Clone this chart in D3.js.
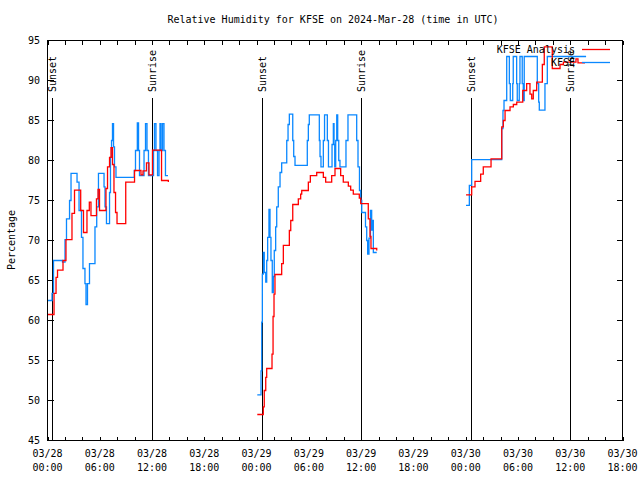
<!DOCTYPE html>
<html>
<head>
<meta charset="utf-8">
<script src="https://cdn.jsdelivr.net/npm/d3@7"></script>
<style>
  html, body { margin: 0; padding: 0; background: #fff; }
  svg { display: block; }
  text { font-family: "DejaVu Sans Mono", "Liberation Mono", monospace; font-size: 10px; fill: #000; }
</style>
</head>
<body>
<svg id="chart" width="640" height="480"></svg>
<script>
// ---- data (hours since 2024-03-28 00:00 UTC) ----
const analysisTime = [0.00,0.75,0.98,1.15,1.78,2.12,2.81,3.10,3.81,4.13,4.53,4.80,4.99,5.62,5.80,5.97,6.71,6.89,7.12,7.29,7.46,7.63,7.81,7.98,8.98,9.99,10.73,10.96,11.36,11.65,12.05,13.09,13.87, 14.0,
  24.08,24.77,24.88,25.05,25.16,25.77,25.89,26.00,26.11,26.88,27.07,27.76,27.92,28.15,28.79,29.06,29.18,29.94,30.17,30.90,31.66,31.93,32.62,33.00,33.65,33.95,34.53,34.80,35.10,35.79,35.95,36.82,37.02,37.13,37.79, 38.0,
  48.04,48.69,49.07,49.72,50.02,50.91,52.14,52.32,52.52,53.09,53.47,53.86,54.55,55.00,55.38,55.58,55.76,56.15,56.80,57.02,57.94,58.83,59.21,60.66,60.89,61.70];
const analysisRH = [60.75,63.4,65.4,66.3,67.5,70.1,73.4,76.3,73.75,71.0,73.75,74.8,73.1,75.2,76.4,73.75,76.5,79.2,80.4,81.6,79.5,76.0,73.5,72.1,77.3,78.75,78.2,78.7,79.7,78.2,81.3,77.5,77.3, null,
  48.25,49.2,51.25,52.9,54.0,55.8,60.5,63.3,65.75,67.1,69.4,71.25,72.5,74.5,75.2,75.8,76.25,77.3,78.1,78.5,77.9,77.3,78.1,79.0,78.1,77.3,76.8,76.3,75.8,75.3,74.6,72.7,70.5,69.0,68.75, null,
  75.7,76.7,77.4,78.3,79.2,80.2,84.2,85.0,86.25,86.7,87.0,87.3,88.75,89.6,88.3,87.7,88.75,89.8,92.0,94.2,91.5,92.0,92.3,92.7,92.2,92.2];

const kfseTime = [0.00,0.52,0.69,1.72,2.01,2.18,2.53,2.70,3.39,3.62,3.90,4.07,4.30,4.42,4.59,4.82,5.45,5.65,5.85,6.49,6.60,6.77,7.12,7.23,7.35,7.46,7.58,7.69,7.86,9.96,10.10,10.31,10.45,10.56,11.08,11.25,11.42,11.59,12.17,12.28,12.45,12.63,12.80,12.91,13.03,13.20,13.37,13.54,13.83, 14.0,
  24.08,24.51,24.59,24.66,24.77,24.88,25.05,25.16,25.27,25.42,25.54,25.65,25.80,25.92,26.03,26.19,26.31,26.49,26.69,26.88,27.46,27.61,27.76,28.15,28.26,28.41,29.82,29.94,30.05,31.20,31.28,31.39,31.66,31.80,32.12,32.25,32.66,32.81,32.89,32.97,33.08,33.20,33.31,33.43,33.57,34.26,34.49,35.49,35.64,35.81,35.95,36.07,36.50,36.64,36.75,36.90,37.07,37.21,37.33,37.40,37.79, 38.0,
  48.04,48.42,48.69,52.14,52.28,52.40,52.71,53.01,53.12,53.40,53.46,53.85,53.92,54.15,54.23,54.49,54.61,54.72,56.22,56.38,56.45,57.10,57.37,61.82];
const kfseRH = [62.5,63.4,67.5,67.3,70.1,72.7,75.0,78.4,77.3,73.75,70.4,66.5,64.6,62.0,64.6,67.1,71.7,74.2,78.4,76.7,74.2,72.1,76.0,80.4,82.5,84.6,81.7,79.2,77.9,78.75,81.25,84.7,81.25,78.1,81.25,84.6,81.25,78.1,81.25,84.6,81.25,78.1,81.25,84.6,81.25,84.6,81.25,78.1,78.1, null,
  50.7,53.7,59.8,65.8,68.5,66.0,64.8,67.5,70.4,73.9,70.4,67.5,63.5,65.5,68.75,71.7,74.2,76.7,78.5,79.7,82.5,84.5,85.8,82.5,80.5,79.4,82.5,84.5,85.7,82.5,80.5,79.2,82.5,85.7,82.5,79.2,82.0,84.6,82.0,79.2,82.5,85.7,82.5,80.0,79.2,82.5,85.7,82.5,79.2,76.25,75.0,73.5,71.7,70.0,68.3,70.3,73.75,71.3,72.5,68.5,68.5, null,
  74.4,76.9,80.1,84.0,86.25,87.5,93.0,89.6,87.5,89.6,93.0,89.6,87.5,89.6,93.0,89.6,87.5,93.0,89.6,87.3,86.3,89.6,93.0,93.0];

const sunsetHours = [0.55, 24.59, 48.66];
const sunriseHours = [12.03, 36.02, 59.99];

const xTickHours = [0, 6, 12, 18, 24, 30, 36, 42, 48, 54, 60, 66];
const xTickDates = ["03/28","03/28","03/28","03/28","03/29","03/29","03/29","03/29","03/30","03/30","03/30","03/30"];
const xTickTimes = ["00:00","06:00","12:00","18:00","00:00","06:00","12:00","18:00","00:00","06:00","12:00","18:00"];
const yTicks = [45, 50, 55, 60, 65, 70, 75, 80, 85, 90, 95];

const seriesNames = ["KFSE Analysis", "KFSE"];
const seriesColors = ["#ff0000", "#0a88ff"];
const titleText = "Relative Humidity for KFSE on 2024-Mar-28 (time in UTC)";

// ---- layout ----
const L = 47.5, R = 622.5, T = 40.5, B = 440.5;
const svg = d3.select("#chart");
const x = d3.scaleLinear().domain([0, 66]).range([L, R]);
const y = d3.scaleLinear().domain([45, 95]).range([B, T]);

// title
svg.append("text").attr("x", 333).attr("y", 23).attr("text-anchor", "middle").text(titleText);

// y axis label
svg.append("text").attr("transform", "translate(15,240) rotate(-90)")
  .attr("text-anchor", "middle").text("Percentage");

// ticks: bottom & top (every 2 hours), left & right
const minorHours = d3.range(0, 66.01, 2);
const tickG = svg.append("g").attr("stroke", "#000").attr("stroke-width", 1).attr("shape-rendering", "crispEdges");
minorHours.forEach(h => {
  const xx = Math.round(x(h)) + 0.5;
  tickG.append("line").attr("x1", xx).attr("x2", xx).attr("y1", B).attr("y2", B - 4);
  tickG.append("line").attr("x1", xx).attr("x2", xx).attr("y1", T).attr("y2", T + 4);
});
yTicks.forEach(v => {
  const yy = Math.round(y(v) - 0.5) + 0.5;
  tickG.append("line").attr("x1", L).attr("x2", L + 6).attr("y1", yy).attr("y2", yy);
  tickG.append("line").attr("x1", R).attr("x2", R - 6).attr("y1", yy).attr("y2", yy);
});

// x tick labels
xTickHours.forEach((h, i) => {
  svg.append("text").attr("x", x(h)).attr("y", 457).attr("text-anchor", "middle").text(xTickDates[i]);
  svg.append("text").attr("x", x(h)).attr("y", 471).attr("text-anchor", "middle").text(xTickTimes[i]);
});
// y tick labels
yTicks.forEach(v => {
  svg.append("text").attr("x", 40).attr("y", y(v) + 3.5).attr("text-anchor", "end").text(v);
});

// sunrise / sunset lines + labels
const events = sunsetHours.map(h => ({h, label: "Sunset"})).concat(sunriseHours.map(h => ({h, label: "Sunrise"})));
events.forEach(e => {
  const xx = Math.round(x(e.h)) + 0.5;
  svg.append("line").attr("x1", xx).attr("x2", xx).attr("y1", 98).attr("y2", B)
    .attr("stroke", "#000").attr("stroke-width", 1).attr("shape-rendering", "crispEdges");
  svg.append("text").attr("transform", `translate(${xx + 3.5},92) rotate(-90)`)
    .attr("text-anchor", "start").text(e.label);
});

// series
function toPoints(times, vals) { return times.map((t, i) => ({t, v: vals[i]})); }
const line = d3.line().defined(d => d.v !== null).x(d => x(d.t)).y(d => y(d.v)).curve(d3.curveStepAfter);
const series = [toPoints(analysisTime, analysisRH), toPoints(kfseTime, kfseRH)];
[1, 0].forEach(i => {
  svg.append("path").datum(series[i]).attr("d", line)
    .attr("fill", "none").attr("stroke", seriesColors[i]).attr("stroke-width", 1.3);
});

// frame
svg.append("rect").attr("x", L).attr("y", T).attr("width", R - L).attr("height", B - T)
  .attr("fill", "none").attr("stroke", "#000").attr("stroke-width", 1).attr("shape-rendering", "crispEdges");

// legend
const legY = [49.5, 62.5];
seriesNames.forEach((name, i) => {
  svg.append("text").attr("x", 575).attr("y", legY[i] + 3.5).attr("text-anchor", "end").text(name);
  svg.append("line").attr("x1", 582).attr("x2", 610).attr("y1", legY[i]).attr("y2", legY[i])
    .attr("stroke", seriesColors[i]).attr("stroke-width", 1.3);
});
</script>
</body>
</html>
